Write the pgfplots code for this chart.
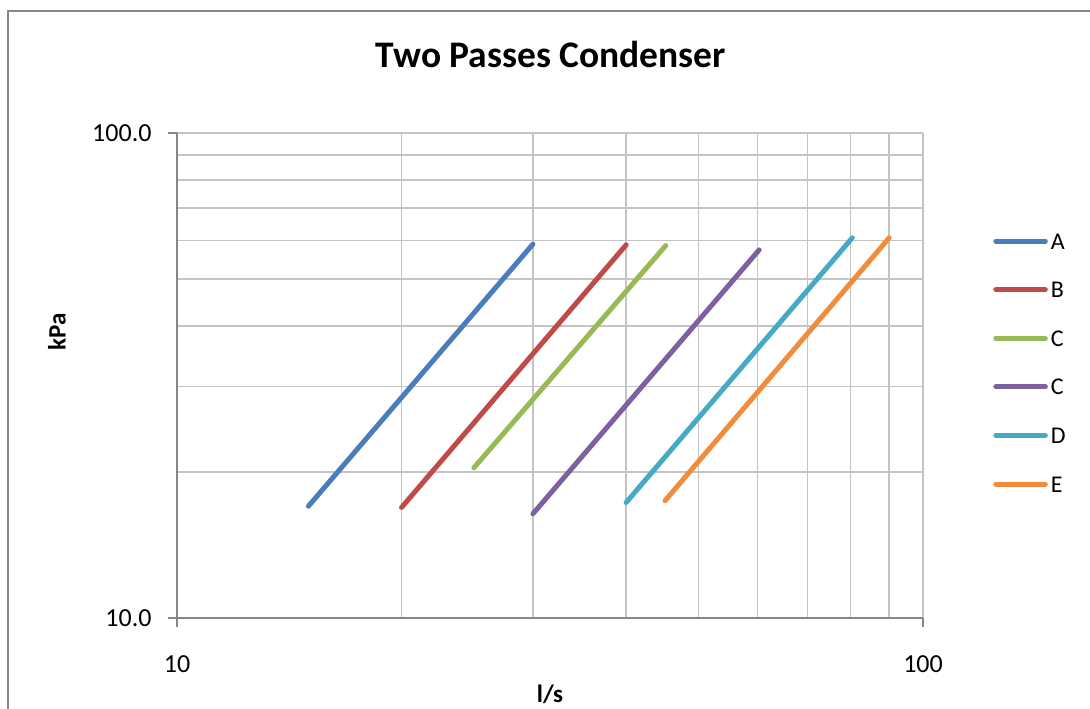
\documentclass[border=0pt]{standalone}
\usepackage{pgfplots}
\pgfplotsset{compat=1.18}
\usepackage{fontspec}
\setmainfont{Carlito}
\definecolor{sA}{RGB}{74,126,187}
\definecolor{sB}{RGB}{190,75,72}
\definecolor{sC}{RGB}{152,185,84}
\definecolor{sC2}{RGB}{125,96,160}
\definecolor{sD}{RGB}{70,170,197}
\definecolor{sE}{RGB}{240,140,60}
\definecolor{gridc}{RGB}{196,196,196}
\definecolor{axc}{RGB}{134,134,134}
\begin{document}
\begin{tikzpicture}[x=1pt,y=1pt]
\useasboundingbox (0,0) rectangle (1090,709);
\draw[color=axc, line width=2pt] (8,-20) -- (8,698) -- (1120,698);
\node[font=\fontsize{37.5}{44}\selectfont\bfseries] at (551,655) {Two Passes Condenser};
\node[rotate=90, font=\fontsize{25}{30}\selectfont\bfseries] at (57,377) {kPa};
\node[font=\fontsize{25}{30}\selectfont\bfseries] at (550,15) {l/s};
\begin{axis}[
  at={(177pt,91pt)}, anchor=south west,
  scale only axis, width=746pt, height=485pt,
  xmode=log, ymode=log,
  xmin=10, xmax=100, ymin=10, ymax=100,
  xtick={10,100}, xticklabels={10,100},
  ytick={10,100}, yticklabels={10.0,100.0},
  minor xtick={20,30,40,50,60,70,80,90},
  minor ytick={20,30,40,50,60,70,80,90},
  grid=both,
  major grid style={color=gridc, line width=1.5pt},
  minor grid style={color=gridc, line width=1.5pt},
  axis lines*=left,
  axis line style={color=axc, line width=1.5pt},
  tick align=outside,
  major tick length=9pt, minor tick length=0pt,
  tick style={color=axc, line width=1.5pt},
  ticklabel style={font=\fontsize{26}{30}\selectfont, color=black},
  xticklabel style={yshift=-25pt},
  yticklabel style={xshift=-13pt},
  legend cell align=left,
  legend style={draw=none, fill=none, inner sep=0pt,
    at={(axis description cs:1.094,0.794)}, anchor=north west,
    font=\fontsize{24}{28}\selectfont, row sep=32.6pt, column sep=3pt,
    nodes={inner sep=0pt, text height=16pt, text depth=0pt}},
  legend image code/.code={\draw[#1, line cap=round] (2.5pt,0pt) -- (52pt,0pt);},
]
\addplot[sA, line width=5pt, line cap=round] coordinates {(15,17.0) (30,59.0)};
\addlegendentry{A}
\addplot[sB, line width=5pt, line cap=round] coordinates {(20,16.9) (40,58.8)};
\addlegendentry{B}
\addplot[sC, line width=5pt, line cap=round] coordinates {(25,20.4) (45.2,58.6)};
\addlegendentry{C}
\addplot[sC2, line width=5pt, line cap=round] coordinates {(30,16.4) (60.3,57.4)};
\addlegendentry{C}
\addplot[sD, line width=5pt, line cap=round] coordinates {(40,17.3) (80.4,60.8)};
\addlegendentry{D}
\addplot[sE, line width=5pt, line cap=round] coordinates {(45.1,17.45) (90.1,60.8)};
\addlegendentry{E}
\end{axis}
\end{tikzpicture}
\end{document}
